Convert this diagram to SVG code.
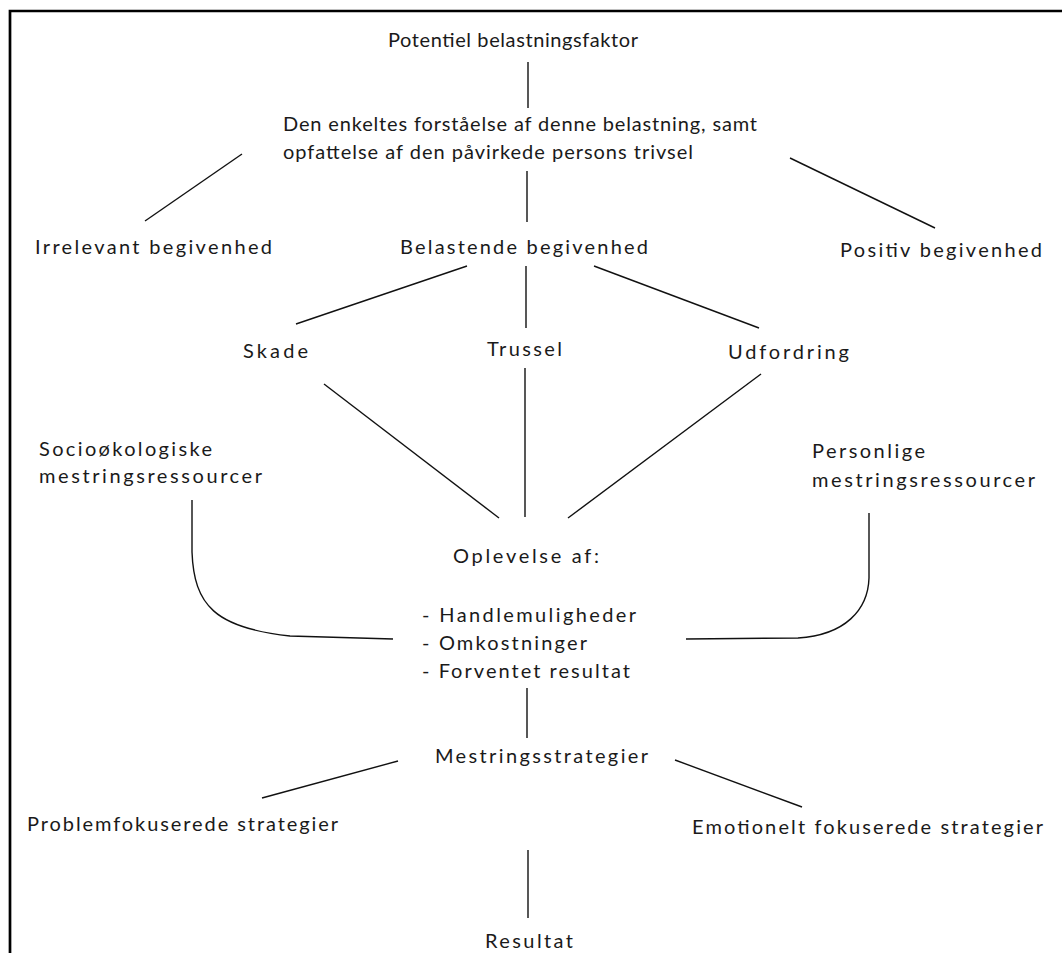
<svg xmlns="http://www.w3.org/2000/svg" width="1062" height="953" viewBox="0 0 1062 953">
<style>
  text { font-family: "Lato", "Liberation Sans", sans-serif; font-size: 20px; fill: #1a1a1a; }
  .c { fill: none; stroke: #111; stroke-width: 1.4; }
  .frame { fill: none; stroke: #000; stroke-width: 2.7; }
</style>
<rect x="0" y="0" width="1062" height="953" fill="#fff"/>
<path class="frame" d="M10,953 V11 H1062"/>
<g id="connectors">
  <line class="c" x1="528" y1="62" x2="528" y2="108"/>
  <line class="c" x1="242" y1="154" x2="145" y2="221"/>
  <line class="c" x1="790" y1="158" x2="935" y2="228"/>
  <line class="c" x1="527" y1="171" x2="527" y2="222"/>
  <line class="c" x1="467" y1="266" x2="296" y2="324"/>
  <line class="c" x1="526" y1="266" x2="526" y2="328"/>
  <line class="c" x1="594" y1="266" x2="759" y2="328"/>
  <line class="c" x1="324" y1="384" x2="499" y2="518"/>
  <line class="c" x1="525" y1="368" x2="525" y2="517"/>
  <line class="c" x1="761" y1="374" x2="568" y2="518"/>
  <path class="c" d="M192,500 L192,552 C194,605 215,628 290,636 L393,639"/>
  <path class="c" d="M686,639 L798,638 C845,635 868,610 869,578 L869,513"/>
  <line class="c" x1="527" y1="688" x2="527" y2="738"/>
  <line class="c" x1="398" y1="761" x2="262" y2="798"/>
  <line class="c" x1="675" y1="760" x2="802" y2="807"/>
  <line class="c" x1="528" y1="850" x2="528" y2="918"/>
</g>
<g id="n-potentiel"><text x="388" y="47" textLength="250" lengthAdjust="spacing">Potentiel belastningsfaktor</text></g>
<g id="n-forstaaelse">
  <text x="283" y="131" textLength="474" lengthAdjust="spacing">Den enkeltes forståelse af denne belastning, samt</text>
  <text x="283" y="159" textLength="410" lengthAdjust="spacing">opfattelse af den påvirkede persons trivsel</text>
</g>
<g id="n-irrelevant"><text x="35" y="254" textLength="237" lengthAdjust="spacing">Irrelevant begivenhed</text></g>
<g id="n-belastende"><text x="400" y="254" textLength="248" lengthAdjust="spacing">Belastende begivenhed</text></g>
<g id="n-positiv"><text x="840" y="257" textLength="202" lengthAdjust="spacing">Positiv begivenhed</text></g>
<g id="n-skade"><text x="243" y="358" textLength="65" lengthAdjust="spacing">Skade</text></g>
<g id="n-trussel"><text x="487" y="356" textLength="75" lengthAdjust="spacing">Trussel</text></g>
<g id="n-udfordring"><text x="728" y="359" textLength="121" lengthAdjust="spacing">Udfordring</text></g>
<g id="n-socio">
  <text x="39" y="456" textLength="173" lengthAdjust="spacing">Socioøkologiske</text>
  <text x="39" y="483" textLength="223" lengthAdjust="spacing">mestringsressourcer</text>
</g>
<g id="n-personlige">
  <text x="812" y="458" textLength="113" lengthAdjust="spacing">Personlige</text>
  <text x="812" y="487" textLength="223" lengthAdjust="spacing">mestringsressourcer</text>
</g>
<g id="n-oplevelse">
  <text x="453" y="563" textLength="146" lengthAdjust="spacing">Oplevelse af:</text>
  <text x="422" y="622" textLength="214" lengthAdjust="spacing">- Handlemuligheder</text>
  <text x="422" y="650" textLength="165" lengthAdjust="spacing">- Omkostninger</text>
  <text x="422" y="678" textLength="208" lengthAdjust="spacing">- Forventet resultat</text>
</g>
<g id="n-mestring"><text x="435" y="763" textLength="213" lengthAdjust="spacing">Mestringsstrategier</text></g>
<g id="n-problem"><text x="27" y="831" textLength="311" lengthAdjust="spacing">Problemfokuserede strategier</text></g>
<g id="n-emotionelt"><text x="692" y="834" textLength="351" lengthAdjust="spacing">Emotionelt fokuserede strategier</text></g>
<g id="n-resultat"><text x="485" y="948" textLength="88" lengthAdjust="spacing">Resultat</text></g>
</svg>
